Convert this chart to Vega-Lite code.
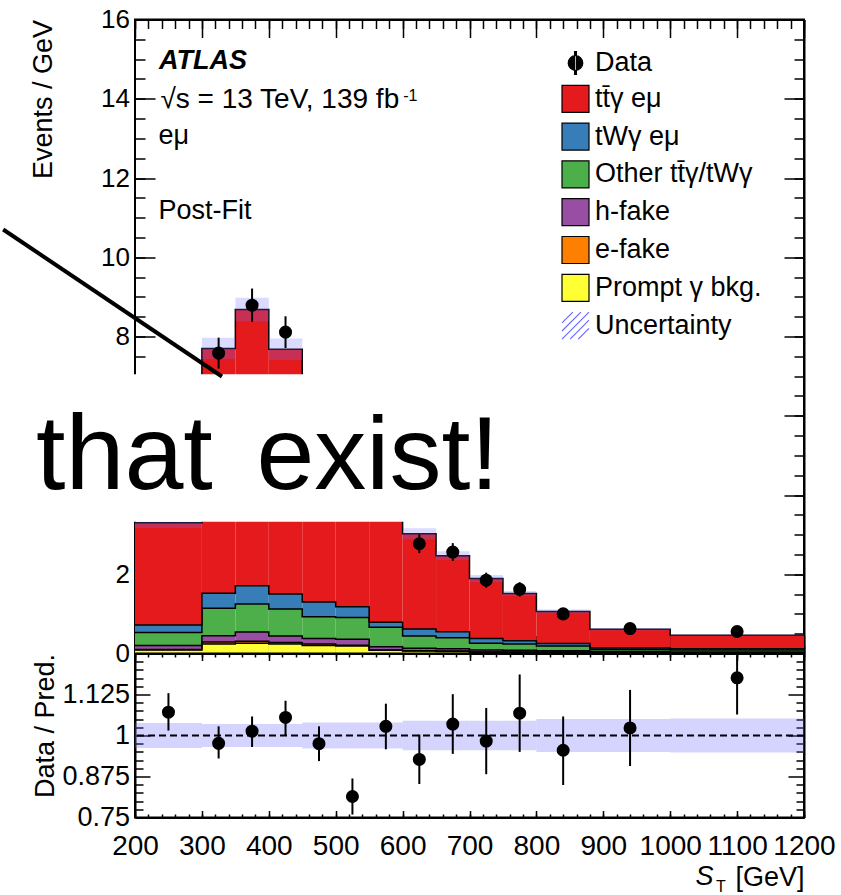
{
  "$schema": "https://vega.github.io/schema/vega-lite/v6.json",
  "background": "white",
  "padding": {"left": 0, "top": 5.5, "right": 10, "bottom": 0},
  "bounds": "flush",
  "spacing": 0,
  "config": {
    "view": {"stroke": "black", "strokeWidth": 2},
    "font": "Liberation Sans",
    "axis": {"grid": false, "zindex": 1, "domainColor": "black", "domainWidth": 2, "tickColor": "black", "tickWidth": 1.5, "labelColor": "black", "titleColor": "black", "labelFont": "Liberation Sans", "titleFont": "Liberation Sans", "titleFontWeight": "normal", "labelFlush": false, "labelOverlap": false, "labelExpr": "'' + datum.value"}
  },
  "datasets": {
    "stack": [
      {"c": "a_pr", "lo": 200, "hi": 300, "b": 0, "t": 0.09}, {"c": "a_pr", "lo": 300, "hi": 350, "b": 0, "t": 0.24}, {"c": "a_pr", "lo": 350, "hi": 400, "b": 0, "t": 0.26},
      {"c": "a_pr", "lo": 400, "hi": 450, "b": 0, "t": 0.24}, {"c": "a_pr", "lo": 450, "hi": 500, "b": 0, "t": 0.20}, {"c": "a_pr", "lo": 500, "hi": 550, "b": 0, "t": 0.19},
      {"c": "a_pr", "lo": 550, "hi": 600, "b": 0, "t": 0.08}, {"c": "a_pr", "lo": 600, "hi": 650, "b": 0, "t": 0.06}, {"c": "a_pr", "lo": 650, "hi": 700, "b": 0, "t": 0.05},
      {"c": "a_pr", "lo": 700, "hi": 750, "b": 0, "t": 0.03}, {"c": "a_pr", "lo": 750, "hi": 800, "b": 0, "t": 0.03}, {"c": "a_pr", "lo": 800, "hi": 880, "b": 0, "t": 0.03},
      {"c": "a_pr", "lo": 880, "hi": 1000, "b": 0, "t": 0.02}, {"c": "a_pr", "lo": 1000, "hi": 1200, "b": 0, "t": 0.015}, {"c": "a_pr", "lo": 1200, "hi": 1200, "b": 0, "t": 0.015},

      {"c": "b_ef", "lo": 200, "hi": 300, "b": 0.09, "t": 0.10}, {"c": "b_ef", "lo": 300, "hi": 350, "b": 0.24, "t": 0.29}, {"c": "b_ef", "lo": 350, "hi": 400, "b": 0.26, "t": 0.31},
      {"c": "b_ef", "lo": 400, "hi": 450, "b": 0.24, "t": 0.28}, {"c": "b_ef", "lo": 450, "hi": 500, "b": 0.20, "t": 0.24}, {"c": "b_ef", "lo": 500, "hi": 550, "b": 0.19, "t": 0.21},
      {"c": "b_ef", "lo": 550, "hi": 600, "b": 0.08, "t": 0.09}, {"c": "b_ef", "lo": 600, "hi": 650, "b": 0.06, "t": 0.07}, {"c": "b_ef", "lo": 650, "hi": 700, "b": 0.05, "t": 0.06},
      {"c": "b_ef", "lo": 700, "hi": 750, "b": 0.03, "t": 0.04}, {"c": "b_ef", "lo": 750, "hi": 800, "b": 0.03, "t": 0.04}, {"c": "b_ef", "lo": 800, "hi": 880, "b": 0.03, "t": 0.035},
      {"c": "b_ef", "lo": 880, "hi": 1000, "b": 0.02, "t": 0.025}, {"c": "b_ef", "lo": 1000, "hi": 1200, "b": 0.015, "t": 0.02}, {"c": "b_ef", "lo": 1200, "hi": 1200, "b": 0.015, "t": 0.02},

      {"c": "c_hf", "lo": 200, "hi": 300, "b": 0.10, "t": 0.20}, {"c": "c_hf", "lo": 300, "hi": 350, "b": 0.29, "t": 0.45}, {"c": "c_hf", "lo": 350, "hi": 400, "b": 0.31, "t": 0.54},
      {"c": "c_hf", "lo": 400, "hi": 450, "b": 0.28, "t": 0.44}, {"c": "c_hf", "lo": 450, "hi": 500, "b": 0.24, "t": 0.38}, {"c": "c_hf", "lo": 500, "hi": 550, "b": 0.21, "t": 0.36},
      {"c": "c_hf", "lo": 550, "hi": 600, "b": 0.09, "t": 0.17}, {"c": "c_hf", "lo": 600, "hi": 650, "b": 0.07, "t": 0.13}, {"c": "c_hf", "lo": 650, "hi": 700, "b": 0.06, "t": 0.12},
      {"c": "c_hf", "lo": 700, "hi": 750, "b": 0.04, "t": 0.09}, {"c": "c_hf", "lo": 750, "hi": 800, "b": 0.04, "t": 0.08}, {"c": "c_hf", "lo": 800, "hi": 880, "b": 0.035, "t": 0.07},
      {"c": "c_hf", "lo": 880, "hi": 1000, "b": 0.025, "t": 0.05}, {"c": "c_hf", "lo": 1000, "hi": 1200, "b": 0.02, "t": 0.04}, {"c": "c_hf", "lo": 1200, "hi": 1200, "b": 0.02, "t": 0.04},

      {"c": "d_oth", "lo": 200, "hi": 300, "b": 0.20, "t": 0.53}, {"c": "d_oth", "lo": 300, "hi": 350, "b": 0.45, "t": 1.14}, {"c": "d_oth", "lo": 350, "hi": 400, "b": 0.54, "t": 1.25},
      {"c": "d_oth", "lo": 400, "hi": 450, "b": 0.44, "t": 1.12}, {"c": "d_oth", "lo": 450, "hi": 500, "b": 0.38, "t": 0.93}, {"c": "d_oth", "lo": 500, "hi": 550, "b": 0.36, "t": 0.91},
      {"c": "d_oth", "lo": 550, "hi": 600, "b": 0.17, "t": 0.66}, {"c": "d_oth", "lo": 600, "hi": 650, "b": 0.13, "t": 0.44}, {"c": "d_oth", "lo": 650, "hi": 700, "b": 0.12, "t": 0.40},
      {"c": "d_oth", "lo": 700, "hi": 750, "b": 0.09, "t": 0.26}, {"c": "d_oth", "lo": 750, "hi": 800, "b": 0.08, "t": 0.24}, {"c": "d_oth", "lo": 800, "hi": 880, "b": 0.07, "t": 0.19},
      {"c": "d_oth", "lo": 880, "hi": 1000, "b": 0.05, "t": 0.10}, {"c": "d_oth", "lo": 1000, "hi": 1200, "b": 0.04, "t": 0.09}, {"c": "d_oth", "lo": 1200, "hi": 1200, "b": 0.04, "t": 0.09},

      {"c": "e_twg", "lo": 200, "hi": 300, "b": 0.53, "t": 0.72}, {"c": "e_twg", "lo": 300, "hi": 350, "b": 1.14, "t": 1.52}, {"c": "e_twg", "lo": 350, "hi": 400, "b": 1.25, "t": 1.71},
      {"c": "e_twg", "lo": 400, "hi": 450, "b": 1.12, "t": 1.50}, {"c": "e_twg", "lo": 450, "hi": 500, "b": 0.93, "t": 1.30}, {"c": "e_twg", "lo": 500, "hi": 550, "b": 0.91, "t": 1.18},
      {"c": "e_twg", "lo": 550, "hi": 600, "b": 0.66, "t": 0.79}, {"c": "e_twg", "lo": 600, "hi": 650, "b": 0.44, "t": 0.62}, {"c": "e_twg", "lo": 650, "hi": 700, "b": 0.40, "t": 0.55},
      {"c": "e_twg", "lo": 700, "hi": 750, "b": 0.26, "t": 0.38}, {"c": "e_twg", "lo": 750, "hi": 800, "b": 0.24, "t": 0.32}, {"c": "e_twg", "lo": 800, "hi": 880, "b": 0.19, "t": 0.25},
      {"c": "e_twg", "lo": 880, "hi": 1000, "b": 0.10, "t": 0.14}, {"c": "e_twg", "lo": 1000, "hi": 1200, "b": 0.09, "t": 0.12}, {"c": "e_twg", "lo": 1200, "hi": 1200, "b": 0.09, "t": 0.12},

      {"c": "f_tty", "lo": 200, "hi": 300, "b": 0.72, "t": 3.30}, {"c": "f_tty", "lo": 300, "hi": 350, "b": 1.52, "t": 7.70}, {"c": "f_tty", "lo": 350, "hi": 400, "b": 1.71, "t": 8.68},
      {"c": "f_tty", "lo": 400, "hi": 450, "b": 1.50, "t": 7.68}, {"c": "f_tty", "lo": 450, "hi": 500, "b": 1.30, "t": 6.50}, {"c": "f_tty", "lo": 500, "hi": 550, "b": 1.18, "t": 5.30},
      {"c": "f_tty", "lo": 550, "hi": 600, "b": 0.79, "t": 4.10}, {"c": "f_tty", "lo": 600, "hi": 650, "b": 0.62, "t": 3.02}, {"c": "f_tty", "lo": 650, "hi": 700, "b": 0.55, "t": 2.47},
      {"c": "f_tty", "lo": 700, "hi": 750, "b": 0.38, "t": 1.89}, {"c": "f_tty", "lo": 750, "hi": 800, "b": 0.32, "t": 1.515}, {"c": "f_tty", "lo": 800, "hi": 880, "b": 0.25, "t": 1.06},
      {"c": "f_tty", "lo": 880, "hi": 1000, "b": 0.14, "t": 0.61}, {"c": "f_tty", "lo": 1000, "hi": 1200, "b": 0.12, "t": 0.46}, {"c": "f_tty", "lo": 1200, "hi": 1200, "b": 0.12, "t": 0.46}
    ],
    "pts": [
      {"x": 250, "d": 3.53, "dlo": 3.34, "dhi": 3.72, "r": 1.071, "rlo": 1.015, "rhi": 1.129},
      {"x": 325, "d": 7.58, "dlo": 7.19, "dhi": 7.97, "r": 0.976, "rlo": 0.930, "rhi": 1.028},
      {"x": 375, "d": 8.79, "dlo": 8.37, "dhi": 9.21, "r": 1.013, "rlo": 0.965, "rhi": 1.058},
      {"x": 425, "d": 8.11, "dlo": 7.71, "dhi": 8.51, "r": 1.055, "rlo": 1.000, "rhi": 1.106},
      {"x": 475, "d": 6.34, "dlo": 5.98, "dhi": 6.70, "r": 0.975, "rlo": 0.922, "rhi": 1.028},
      {"x": 525, "d": 4.31, "dlo": 4.02, "dhi": 4.60, "r": 0.814, "rlo": 0.759, "rhi": 0.869},
      {"x": 575, "d": 4.21, "dlo": 3.92, "dhi": 4.50, "r": 1.028, "rlo": 0.958, "rhi": 1.097},
      {"x": 625, "d": 2.77, "dlo": 2.535, "dhi": 3.005, "r": 0.927, "rlo": 0.852, "rhi": 1.003},
      {"x": 675, "d": 2.56, "dlo": 2.334, "dhi": 2.786, "r": 1.035, "rlo": 0.944, "rhi": 1.126},
      {"x": 725, "d": 1.85, "dlo": 1.66, "dhi": 2.04, "r": 0.983, "rlo": 0.882, "rhi": 1.084},
      {"x": 775, "d": 1.62, "dlo": 1.44, "dhi": 1.80, "r": 1.068, "rlo": 0.950, "rhi": 1.186},
      {"x": 840, "d": 1.00, "dlo": 0.89, "dhi": 1.11, "r": 0.955, "rlo": 0.849, "rhi": 1.058},
      {"x": 940, "d": 0.63, "dlo": 0.558, "dhi": 0.702, "r": 1.023, "rlo": 0.907, "rhi": 1.139},
      {"x": 1100, "d": 0.555, "dlo": 0.502, "dhi": 0.608, "r": 1.176, "rlo": 1.064, "rhi": 1.245}
    ],
    "unc": [
      {"lo": 200, "hi": 300, "tlo": 3.17, "thi": 3.43, "ulo": 0.962, "uhi": 1.038},
      {"lo": 300, "hi": 350, "tlo": 7.43, "thi": 7.97, "ulo": 0.965, "uhi": 1.035},
      {"lo": 350, "hi": 400, "tlo": 8.38, "thi": 8.98, "ulo": 0.965, "uhi": 1.035},
      {"lo": 400, "hi": 450, "tlo": 7.41, "thi": 7.95, "ulo": 0.965, "uhi": 1.035},
      {"lo": 450, "hi": 500, "tlo": 6.24, "thi": 6.76, "ulo": 0.960, "uhi": 1.040},
      {"lo": 500, "hi": 550, "tlo": 5.09, "thi": 5.51, "ulo": 0.960, "uhi": 1.040},
      {"lo": 550, "hi": 600, "tlo": 3.94, "thi": 4.26, "ulo": 0.960, "uhi": 1.040},
      {"lo": 600, "hi": 650, "tlo": 2.88, "thi": 3.16, "ulo": 0.955, "uhi": 1.045},
      {"lo": 650, "hi": 700, "tlo": 2.36, "thi": 2.58, "ulo": 0.955, "uhi": 1.045},
      {"lo": 700, "hi": 750, "tlo": 1.80, "thi": 1.98, "ulo": 0.955, "uhi": 1.045},
      {"lo": 750, "hi": 800, "tlo": 1.45, "thi": 1.58, "ulo": 0.955, "uhi": 1.045},
      {"lo": 800, "hi": 880, "tlo": 1.01, "thi": 1.11, "ulo": 0.950, "uhi": 1.050},
      {"lo": 880, "hi": 1000, "tlo": 0.58, "thi": 0.64, "ulo": 0.950, "uhi": 1.050},
      {"lo": 1000, "hi": 1200, "tlo": 0.44, "thi": 0.48, "ulo": 0.948, "uhi": 1.052}
    ]
  },
  "vconcat": [
    {
      "width": 669,
      "height": 634,
      "resolve": {"axis": {"x": "independent", "y": "independent"}},
      "layer": [
        {
          "data": {"name": "stack"},
          "mark": {"type": "rect", "opacity": 1, "strokeWidth": 0},
          "encoding": {
            "x": {"field": "lo", "type": "quantitative", "scale": {"domain": [200, 1200], "nice": false, "zero": false},
              "axis": {"orient": "bottom", "values": [200, 300, 400, 500, 600, 700, 800, 900, 1000, 1100, 1200], "tickSize": -18, "labels": false, "domain": true, "title": null}},
            "x2": {"field": "hi"},
            "y": {"field": "b", "type": "quantitative", "scale": {"domain": [0, 16], "nice": false, "zero": false},
              "axis": {"orient": "left", "values": [0, 2, 8, 10, 12, 14, 16], "tickSize": -20, "labelPadding": 25.5, "labelFontSize": 26, "domain": false,
                "title": "Events / GeV", "titleFontSize": 27, "titleX": -84, "titleY": 0, "titleAlign": "right", "titleAngle": -90, "titleBaseline": "alphabetic"}},
            "y2": {"field": "t"},
            "fill": {"field": "c", "type": "nominal",
              "scale": {"domain": ["Data", "f_tty", "e_twg", "d_oth", "c_hf", "b_ef", "a_pr", "z_unc"], "range": ["black", "#e41a1c", "#377eb8", "#4daf4a", "#984ea3", "#ff7f00", "#ffff33", "transparent"]},
              "legend": {"orient": "none", "legendX": 426, "legendY": 29, "title": null, "padding": 0, "symbolSize": 729, "rowPadding": 4.8, "labelOffset": 5, "labelLimit": 500,
                "labelFont": "Liberation Sans", "labelFontSize": 27, "labelColor": "black", "symbolStrokeWidth": 1.2, "symbolOpacity": 1,
                "symbolType": {"expr": "datum.value == 'Data' ? 'M-0.54,0A0.54,0.54,0,1,0,0.54,0A0.54,0.54,0,1,0,-0.54,0ZM-0.07,-0.85L0.07,-0.85L0.07,0.85L-0.07,0.85Z' : datum.value == 'z_unc' ? 'M-1,-0.2L-0.2,-1M-1,0.4L0.4,-1M-1,1L1,-1M-0.4,1L1,-0.4M0.2,1L1,0.2' : 'square'"},
                "symbolStrokeColor": {"expr": "datum.value == 'z_unc' ? '#6b6bff' : 'black'"},
                "labelExpr": "datum.value == 'f_tty' ? 'tt\u0304γ eμ' : datum.value == 'e_twg' ? 'tWγ eμ' : datum.value == 'd_oth' ? 'Other tt\u0304γ/tWγ' : datum.value == 'c_hf' ? 'h-fake' : datum.value == 'b_ef' ? 'e-fake' : datum.value == 'a_pr' ? 'Prompt γ bkg.' : datum.value == 'z_unc' ? 'Uncertainty' : 'Data'"}}
          }
        },
        {
          "data": {"name": "stack"},
          "mark": {"type": "line", "interpolate": "step-after", "color": "black", "strokeWidth": 1.5},
          "encoding": {
            "x": {"field": "lo", "type": "quantitative", "scale": {"domain": [200, 1200], "nice": false, "zero": false}, "axis": null},
            "y": {"field": "t", "type": "quantitative", "scale": {"domain": [0, 16], "nice": false, "zero": false}, "axis": null},
            "detail": {"field": "c", "type": "nominal"}
          }
        },
        {
          "data": {"name": "unc"},
          "mark": {"type": "rect", "fill": "#7070ff", "fillOpacity": 0.25},
          "encoding": {
            "x": {"field": "lo", "type": "quantitative", "scale": {"domain": [200, 1200], "nice": false, "zero": false},
              "axis": {"orient": "bottom", "values": [200,220,240,260,280,300,320,340,360,380,400,420,440,460,480,500,520,540,560,580,600,620,640,660,680,700,720,740,760,780,800,820,840,860,880,900,920,940,960,980,1000,1020,1040,1060,1080,1100,1120,1140,1160,1180,1200], "tickSize": -9, "labels": false, "domain": false, "title": null}},
            "x2": {"field": "hi"},
            "y": {"field": "tlo", "type": "quantitative", "scale": {"domain": [0, 16], "nice": false, "zero": false},
              "axis": {"orient": "left", "values": [0.5,1,1.5,2,2.5,3,7.5,8,8.5,9,9.5,10,10.5,11,11.5,12,12.5,13,13.5,14,14.5,15,15.5], "tickSize": -10, "labels": false, "domain": false, "title": null}},
            "y2": {"field": "thi"}
          }
        },
        {
          "data": {"name": "pts"},
          "mark": {"type": "rule", "color": "black", "strokeWidth": 2},
          "encoding": {
            "x": {"field": "x", "type": "quantitative", "scale": {"domain": [200, 1200], "nice": false, "zero": false},
              "axis": {"orient": "top", "values": [200, 300, 400, 500, 600, 700, 800, 900, 1000, 1100, 1200], "tickSize": -18, "labels": false, "domain": true, "title": null}},
            "y": {"field": "dlo", "type": "quantitative", "scale": {"domain": [0, 16], "nice": false, "zero": false},
              "axis": {"orient": "right", "values": [0, 2, 4, 6, 8, 10, 12, 14, 16], "tickSize": -20, "labels": false, "domain": true, "title": null}},
            "y2": {"field": "dhi"}
          }
        },
        {
          "data": {"name": "pts"},
          "mark": {"type": "circle", "color": "black", "opacity": 1, "size": 170},
          "encoding": {
            "x": {"field": "x", "type": "quantitative", "scale": {"domain": [200, 1200], "nice": false, "zero": false},
              "axis": {"orient": "top", "values": [200,220,240,260,280,300,320,340,360,380,400,420,440,460,480,500,520,540,560,580,600,620,640,660,680,700,720,740,760,780,800,820,840,860,880,900,920,940,960,980,1000,1020,1040,1060,1080,1100,1120,1140,1160,1180,1200], "tickSize": -9, "labels": false, "domain": false, "title": null}},
            "y": {"field": "d", "type": "quantitative", "scale": {"domain": [0, 16], "nice": false, "zero": false},
              "axis": {"orient": "right", "values": [0.5,1,1.5,2,2.5,3,3.5,4,4.5,5,5.5,6,6.5,7,7.5,8,8.5,9,9.5,10,10.5,11,11.5,12,12.5,13,13.5,14,14.5,15,15.5], "tickSize": -10, "labels": false, "domain": false, "title": null}}
          }
        },
        {
          "data": {"values": [{}]},
          "mark": {"type": "rect", "fill": "white", "strokeWidth": 0},
          "encoding": {
            "x": {"datum": 0, "type": "quantitative", "scale": {"domain": [200, 1200], "nice": false, "zero": false}, "axis": null},
            "x2": {"datum": 1150},
            "y": {"datum": 3.326, "type": "quantitative", "scale": {"domain": [0, 16], "nice": false, "zero": false}, "axis": null},
            "y2": {"datum": 7.046}
          }
        },
        {
          "data": {"values": [{}]},
          "mark": {"type": "rule", "color": "black", "strokeWidth": 4, "strokeCap": "butt"},
          "encoding": {
            "x": {"datum": 3, "type": "quantitative", "scale": {"domain": [200, 1200], "nice": false, "zero": false}, "axis": null},
            "x2": {"datum": 330},
            "y": {"datum": 10.70, "type": "quantitative", "scale": {"domain": [0, 16], "nice": false, "zero": false}, "axis": null},
            "y2": {"datum": 6.99}
          }
        },
        {
          "data": {"values": [{}]},
          "mark": {"type": "text", "text": "that", "font": "Liberation Sans", "fontSize": 106, "align": "left", "baseline": "alphabetic", "color": "black"},
          "encoding": {
            "x": {"datum": 52, "type": "quantitative", "scale": {"domain": [200, 1200], "nice": false, "zero": false}, "axis": null},
            "y": {"datum": 4.16, "type": "quantitative", "scale": {"domain": [0, 16], "nice": false, "zero": false}, "axis": null}
          }
        },
        {
          "data": {"values": [{}]},
          "mark": {"type": "text", "text": "exist!", "font": "Liberation Sans", "fontSize": 104, "align": "left", "baseline": "alphabetic", "color": "black"},
          "encoding": {
            "x": {"datum": 381.6, "type": "quantitative", "scale": {"domain": [200, 1200], "nice": false, "zero": false}, "axis": null},
            "y": {"datum": 4.16, "type": "quantitative", "scale": {"domain": [0, 16], "nice": false, "zero": false}, "axis": null}
          }
        },
        {
          "data": {"values": [{}]},
          "mark": {"type": "text", "text": "ATLAS", "font": "Liberation Sans", "fontSize": 27, "fontWeight": "bold", "fontStyle": "italic", "align": "left", "baseline": "alphabetic", "color": "black"},
          "encoding": {
            "x": {"datum": 236, "type": "quantitative", "scale": {"domain": [200, 1200], "nice": false, "zero": false}, "axis": null},
            "y": {"datum": 14.74, "type": "quantitative", "scale": {"domain": [0, 16], "nice": false, "zero": false}, "axis": null}
          }
        },
        {
          "data": {"values": [{}]},
          "mark": {"type": "text", "text": "√s = 13 TeV, 139 fb", "font": "Liberation Sans", "fontSize": 28, "align": "left", "baseline": "alphabetic", "color": "black"},
          "encoding": {
            "x": {"datum": 238, "type": "quantitative", "scale": {"domain": [200, 1200], "nice": false, "zero": false}, "axis": null},
            "y": {"datum": 13.77, "type": "quantitative", "scale": {"domain": [0, 16], "nice": false, "zero": false}, "axis": null}
          }
        },
        {
          "data": {"values": [{}]},
          "mark": {"type": "text", "text": "-1", "font": "Liberation Sans", "fontSize": 16, "align": "left", "baseline": "alphabetic", "color": "black"},
          "encoding": {
            "x": {"datum": 601, "type": "quantitative", "scale": {"domain": [200, 1200], "nice": false, "zero": false}, "axis": null},
            "y": {"datum": 13.94, "type": "quantitative", "scale": {"domain": [0, 16], "nice": false, "zero": false}, "axis": null}
          }
        },
        {
          "data": {"values": [{}]},
          "mark": {"type": "text", "text": "eμ", "font": "Liberation Sans", "fontSize": 27, "align": "left", "baseline": "alphabetic", "color": "black"},
          "encoding": {
            "x": {"datum": 235, "type": "quantitative", "scale": {"domain": [200, 1200], "nice": false, "zero": false}, "axis": null},
            "y": {"datum": 12.85, "type": "quantitative", "scale": {"domain": [0, 16], "nice": false, "zero": false}, "axis": null}
          }
        },
        {
          "data": {"values": [{}]},
          "mark": {"type": "text", "text": "Post-Fit", "font": "Liberation Sans", "fontSize": 27, "align": "left", "baseline": "alphabetic", "color": "black"},
          "encoding": {
            "x": {"datum": 235, "type": "quantitative", "scale": {"domain": [200, 1200], "nice": false, "zero": false}, "axis": null},
            "y": {"datum": 10.96, "type": "quantitative", "scale": {"domain": [0, 16], "nice": false, "zero": false}, "axis": null}
          }
        }
      ]
    },
    {
      "width": 669,
      "height": 164,
      "resolve": {"axis": {"x": "independent", "y": "independent"}},
      "layer": [
        {
          "data": {"name": "unc"},
          "mark": {"type": "rect", "fill": "#7070ff", "fillOpacity": 0.3},
          "encoding": {
            "x": {"field": "lo", "type": "quantitative", "scale": {"domain": [200, 1200], "nice": false, "zero": false},
              "axis": {"orient": "bottom", "values": [200, 300, 400, 500, 600, 700, 800, 900, 1000, 1100, 1200], "tickSize": -7, "labelPadding": 21.5, "labelFontSize": 28, "domain": true,
                "title": "[GeV]", "titleFontSize": 27, "titleX": 669, "titleY": 67.5, "titleAlign": "right", "titleAnchor": "end", "titleBaseline": "alphabetic"}},
            "x2": {"field": "hi"},
            "y": {"field": "ulo", "type": "quantitative", "scale": {"domain": [0.75, 1.25], "nice": false, "zero": false},
              "axis": {"orient": "left", "values": [0.75, 0.875, 1, 1.125], "tickSize": -15, "labelPadding": 20.5, "labelFontSize": 27, "domain": true,
                "title": "Data / Pred.", "titleFontSize": 27, "titleX": -82, "titleY": 0, "titleAlign": "right", "titleAngle": -90, "titleBaseline": "alphabetic"}},
            "y2": {"field": "uhi"}
          }
        },
        {
          "data": {"values": [{}]},
          "mark": {"type": "rule", "color": "black", "strokeWidth": 2, "strokeDash": [7, 4]},
          "encoding": {
            "y": {"datum": 1, "type": "quantitative", "scale": {"domain": [0.75, 1.25], "nice": false, "zero": false}, "axis": null}
          }
        },
        {
          "data": {"name": "pts"},
          "mark": {"type": "rule", "color": "black", "strokeWidth": 2},
          "encoding": {
            "x": {"field": "x", "type": "quantitative", "scale": {"domain": [200, 1200], "nice": false, "zero": false},
              "axis": {"orient": "bottom", "values": [200,220,240,260,280,300,320,340,360,380,400,420,440,460,480,500,520,540,560,580,600,620,640,660,680,700,720,740,760,780,800,820,840,860,880,900,920,940,960,980,1000,1020,1040,1060,1080,1100,1120,1140,1160,1180,1200], "tickSize": -3.5, "labels": false, "domain": false, "title": null}},
            "y": {"field": "rlo", "type": "quantitative", "scale": {"domain": [0.75, 1.25], "nice": false, "zero": false},
              "axis": {"orient": "left", "values": [0.775,0.8,0.825,0.85,0.9,0.925,0.95,0.975,1.025,1.05,1.075,1.1,1.15,1.175,1.2,1.225], "tickSize": -8, "labels": false, "domain": false, "title": null}},
            "y2": {"field": "rhi"}
          }
        },
        {
          "data": {"name": "pts"},
          "mark": {"type": "circle", "color": "black", "opacity": 1, "size": 170},
          "encoding": {
            "x": {"field": "x", "type": "quantitative", "scale": {"domain": [200, 1200], "nice": false, "zero": false},
              "axis": {"orient": "top", "values": [200, 300, 400, 500, 600, 700, 800, 900, 1000, 1100, 1200], "tickSize": -7, "labels": false, "domain": true, "title": null}},
            "y": {"field": "r", "type": "quantitative", "scale": {"domain": [0.75, 1.25], "nice": false, "zero": false},
              "axis": {"orient": "right", "values": [0.75, 0.875, 1, 1.125, 1.25], "tickSize": -16, "labels": false, "domain": true, "title": null}}
          }
        },
        {
          "data": {"values": [{}]},
          "mark": {"type": "text", "text": "S", "font": "Liberation Sans", "fontSize": 27, "fontStyle": "italic", "align": "left", "baseline": "alphabetic", "color": "black"},
          "encoding": {
            "x": {"datum": 1038, "type": "quantitative", "scale": {"domain": [200, 1200], "nice": false, "zero": false},
              "axis": {"orient": "top", "values": [200,220,240,260,280,300,320,340,360,380,400,420,440,460,480,500,520,540,560,580,600,620,640,660,680,700,720,740,760,780,800,820,840,860,880,900,920,940,960,980,1000,1020,1040,1060,1080,1100,1120,1140,1160,1180,1200], "tickSize": -3.5, "labels": false, "domain": false, "title": null}},
            "y": {"datum": 0.544, "type": "quantitative", "scale": {"domain": [0.75, 1.25], "nice": false, "zero": false},
              "axis": {"orient": "right", "values": [0.775,0.8,0.825,0.85,0.9,0.925,0.95,0.975,1.025,1.05,1.075,1.1,1.15,1.175,1.2,1.225], "tickSize": -8, "labels": false, "domain": false, "title": null}}
          }
        },
        {
          "data": {"values": [{}]},
          "mark": {"type": "text", "text": "T", "font": "Liberation Sans", "fontSize": 16, "align": "left", "baseline": "alphabetic", "color": "black"},
          "encoding": {
            "x": {"datum": 1068.5, "type": "quantitative", "scale": {"domain": [200, 1200], "nice": false, "zero": false}, "axis": null},
            "y": {"datum": 0.522, "type": "quantitative", "scale": {"domain": [0.75, 1.25], "nice": false, "zero": false}, "axis": null}
          }
        }
      ]
    }
  ]
}
